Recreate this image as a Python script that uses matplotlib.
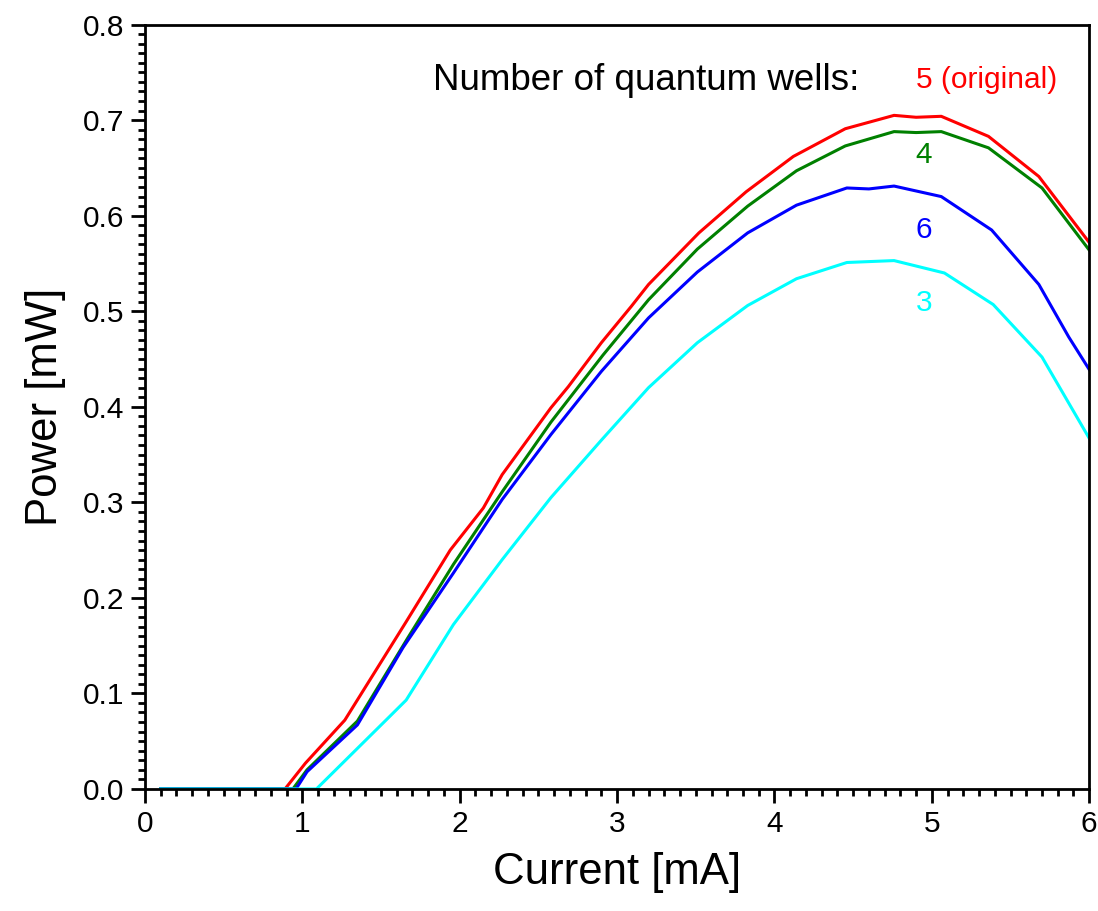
import numpy as np
import matplotlib.pyplot as plt
from matplotlib.ticker import MultipleLocator, FormatStrFormatter

plt.rcParams['font.family'] = ['Liberation Sans', 'DejaVu Sans']

# Power vs current for different numbers of quantum wells
x_5 = [0.1, 0.89, 1.02, 1.27, 1.66, 1.94, 2.15, 2.27, 2.58, 2.69, 2.90, 3.09,
       3.20, 3.52, 3.82, 4.12, 4.45, 4.76, 4.90, 5.06, 5.36, 5.68, 6.0]
y_5 = [0.0, 0.0, 0.027, 0.072, 0.175, 0.250, 0.294, 0.329, 0.399, 0.421, 0.467, 0.505,
       0.528, 0.582, 0.625, 0.662, 0.691, 0.705, 0.703, 0.704, 0.683, 0.641, 0.572]

x_4 = [0.1, 0.94, 1.03, 1.35, 1.67, 1.96, 2.27, 2.58, 2.91, 3.20, 3.51, 3.83,
       4.14, 4.45, 4.76, 4.90, 5.06, 5.36, 5.70, 6.0]
y_4 = [0.0, 0.0, 0.020, 0.071, 0.158, 0.235, 0.311, 0.384, 0.454, 0.512, 0.565, 0.610,
       0.647, 0.673, 0.688, 0.687, 0.688, 0.671, 0.629, 0.564]

x_6 = [0.1, 0.96, 1.03, 1.35, 1.64, 1.96, 2.27, 2.58, 2.90, 3.20, 3.51, 3.83,
       4.14, 4.46, 4.60, 4.76, 5.06, 5.38, 5.68, 5.87, 6.0]
y_6 = [0.0, 0.0, 0.018, 0.067, 0.148, 0.226, 0.303, 0.371, 0.437, 0.493, 0.541, 0.582,
       0.611, 0.629, 0.628, 0.631, 0.620, 0.585, 0.528, 0.473, 0.439]

x_3 = [0.1, 1.09, 1.55, 1.66, 1.96, 2.27, 2.58, 2.90, 3.20, 3.51, 3.83,
       4.14, 4.46, 4.76, 5.08, 5.39, 5.70, 6.0]
y_3 = [0.0, 0.0, 0.075, 0.093, 0.172, 0.240, 0.305, 0.365, 0.420, 0.467, 0.506,
       0.534, 0.551, 0.553, 0.540, 0.507, 0.452, 0.367]

series = [
    (x_5, y_5, '#ff0000', '5 (original)', 0.742),
    (x_4, y_4, '#008000', '4', 0.664),
    (x_6, y_6, '#0000ff', '6', 0.585),
    (x_3, y_3, '#00ffff', '3', 0.509),
]

fig = plt.figure(figsize=(10.98, 9.11), dpi=100)
ax = fig.add_axes([0.132, 0.134, 0.860, 0.839])

for xs, ys, color, label, ly in series:
    ax.plot(xs, ys, color=color, lw=2.2)
    ha = 'left' if label.startswith('5') else 'center'
    lx = 4.9 if ha == 'left' else 4.95
    ax.text(lx, ly, label, color=color, fontsize=21.5, ha=ha, va='center')

ax.text(1.83, 0.742, 'Number of quantum wells:', fontsize=26.5, ha='left', va='center')

ax.set_xlim(0, 6)
ax.set_ylim(0, 0.8)
ax.xaxis.set_major_locator(MultipleLocator(1))
ax.xaxis.set_minor_locator(MultipleLocator(0.1))
ax.yaxis.set_major_locator(MultipleLocator(0.1))
ax.yaxis.set_minor_locator(MultipleLocator(0.01))
ax.yaxis.set_major_formatter(FormatStrFormatter('%.1f'))

ax.tick_params(which='major', direction='out', length=10, width=2, labelsize=21.5, pad=5)
ax.tick_params(which='minor', direction='out', length=5, width=2)
for s in ax.spines.values():
    s.set_linewidth(2)

ax.set_xlabel('Current [mA]', fontsize=31.5, labelpad=10)
ax.set_ylabel('Power [mW]', fontsize=31.5, labelpad=12)

plt.savefig('out.png', dpi=100)
